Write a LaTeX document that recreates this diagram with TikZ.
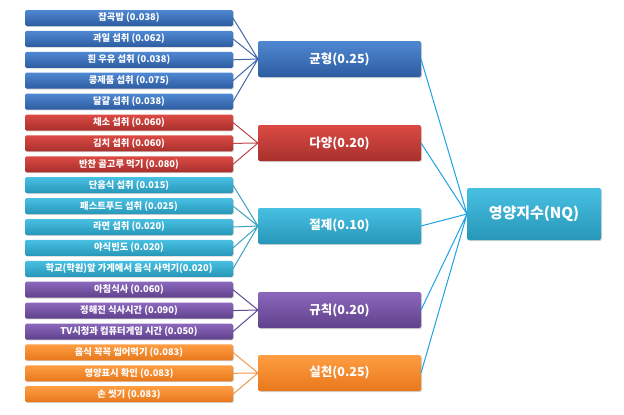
\documentclass[tikz,border=0pt]{standalone}
\usepackage{fontspec}
\setmainfont{Noto Sans CJK KR}
\usetikzlibrary{positioning, shadows}

\definecolor{gblueT}{HTML}{4F88D2}
\definecolor{gblueB}{HTML}{2D5CA0}
\definecolor{gblueL}{HTML}{4169A8}
\definecolor{gredT}{HTML}{DC4A44}
\definecolor{gredB}{HTML}{A8302C}
\definecolor{gredL}{HTML}{C0474A}
\definecolor{gcyanT}{HTML}{48C0E2}
\definecolor{gcyanB}{HTML}{2797B9}
\definecolor{gcyanL}{HTML}{3CA2C2}
\definecolor{gpurpT}{HTML}{8C68BC}
\definecolor{gpurpB}{HTML}{5F418C}
\definecolor{gpurpL}{HTML}{5E4A96}
\definecolor{gorngT}{HTML}{FF9D42}
\definecolor{gorngB}{HTML}{E8781C}
\definecolor{gorngL}{HTML}{F2964A}
\definecolor{nqlink}{HTML}{1EA2E6}

\begin{document}
\begin{tikzpicture}[
		x=1pt, y=1pt,
		% estilos de las cajas
		leaf/.style = {rectangle, rounded corners=1.5pt, top color=#1T, bottom color=#1B, minimum width=208pt, minimum height=16pt, inner sep=0pt, outer sep=0pt, text=white, font=\fontsize{9.3}{10}\selectfont\bfseries, drop shadow={opacity=0.35, shadow xshift=0.8pt, shadow yshift=-0.8pt}},
		crit/.style = {rectangle, rounded corners=2pt, top color=#1T, bottom color=#1B, minimum width=163pt, minimum height=36pt, inner sep=0pt, outer sep=0pt, text=white, font=\fontsize{12.5}{13}\selectfont\bfseries, drop shadow={opacity=0.35, shadow xshift=1pt, shadow yshift=-1pt}},
		index/.style = {rectangle, rounded corners=2pt, top color=gcyanT, bottom color=gcyanB, minimum width=134pt, minimum height=52pt, inner sep=0pt, outer sep=0pt, text=white, font=\fontsize{15}{16}\selectfont\bfseries, drop shadow={opacity=0.35, shadow xshift=1pt, shadow yshift=-1pt}},
		link/.style = {draw=#1L, line width=1pt},
		nqedge/.style = {draw=nqlink, line width=1pt}
		]
		\useasboundingbox (0,0) rectangle (624,-415);
		
		% --- INDICADORES (columna izquierda) ---
		\node [leaf=gblue] (bal1) at (129,-18) {잡곡밥 (0.038)};
		\node [leaf=gblue, below=4.9pt of bal1] (bal2) {과일 섭취 (0.062)};
		\node [leaf=gblue, below=4.9pt of bal2] (bal3) {흰 우유 섭취 (0.038)};
		\node [leaf=gblue, below=4.9pt of bal3] (bal4) {콩제품 섭취 (0.075)};
		\node [leaf=gblue, below=4.9pt of bal4] (bal5) {달걀 섭취 (0.038)};
		
		\node [leaf=gred, below=4.9pt of bal5] (div1) {채소 섭취 (0.060)};
		\node [leaf=gred, below=4.9pt of div1] (div2) {김치 섭취 (0.060)};
		\node [leaf=gred, below=4.9pt of div2] (div3) {반찬 골고루 먹기 (0.080)};
		
		\node [leaf=gcyan, below=4.9pt of div3] (mod1) {단음식 섭취 (0.015)};
		\node [leaf=gcyan, below=4.9pt of mod1] (mod2) {패스트푸드 섭취 (0.025)};
		\node [leaf=gcyan, below=4.9pt of mod2] (mod3) {라면 섭취 (0.020)};
		\node [leaf=gcyan, below=4.9pt of mod3] (mod4) {야식빈도 (0.020)};
		\node [leaf=gcyan, below=4.9pt of mod4] (mod5) {학교(학원)앞 가게에서 음식 사먹기(0.020)};
		
		\node [leaf=gpurp, below=4.9pt of mod5] (reg1) {아침식사 (0.060)};
		\node [leaf=gpurp, below=4.9pt of reg1] (reg2) {정해진 식사시간 (0.090)};
		\node [leaf=gpurp, below=4.9pt of reg2] (reg3) {TV시청과 컴퓨터게임 시간 (0.050)};
		
		\node [leaf=gorng, below=4.9pt of reg3] (prac1) {음식 꼭꼭 씹어먹기 (0.083)};
		\node [leaf=gorng, below=4.9pt of prac1] (prac2) {영양표시 확인 (0.083)};
		\node [leaf=gorng, below=4.9pt of prac2] (prac3) {손 씻기 (0.083)};
		
		% --- FACTORES (columna central) ---
		\node [crit=gblue] (bal) at (339.5,-59) {균형(0.25)};
		\node [crit=gred] (div) at (339.5,-143) {다양(0.20)};
		\node [crit=gcyan] (mod) at (339.5,-226) {절제(0.10)};
		\node [crit=gpurp] (reg) at (339.5,-310) {규칙(0.20)};
		\node [crit=gorng] (prac) at (339.5,-373) {실천(0.25)};
		
		% --- INDICE GLOBAL ---
		\node [index] (nq) at (534,-214) {영양지수(NQ)};
		
		% --- CONEXIONES ---
		\draw [link=gblue] (bal1.east) -- (bal.west) (bal2.east) -- (bal.west) (bal3.east) -- (bal.west) (bal4.east) -- (bal.west) (bal5.east) -- (bal.west);
		\draw [link=gred] (div1.east) -- (div.west) (div2.east) -- (div.west) (div3.east) -- (div.west);
		\draw [link=gcyan] (mod1.east) -- (mod.west) (mod2.east) -- (mod.west) (mod3.east) -- (mod.west) (mod4.east) -- (mod.west) (mod5.east) -- (mod.west);
		\draw [link=gpurp] (reg1.east) -- (reg.west) (reg2.east) -- (reg.west) (reg3.east) -- (reg.west);
		\draw [link=gorng] (prac1.east) -- (prac.west) (prac2.east) -- (prac.west) (prac3.east) -- (prac.west);
		
		\draw [nqedge] (bal.east) -- (nq.west) (div.east) -- (nq.west) (mod.east) -- (nq.west) (reg.east) -- (nq.west) (prac.east) -- (nq.west);
		
	\end{tikzpicture}
\end{document}
